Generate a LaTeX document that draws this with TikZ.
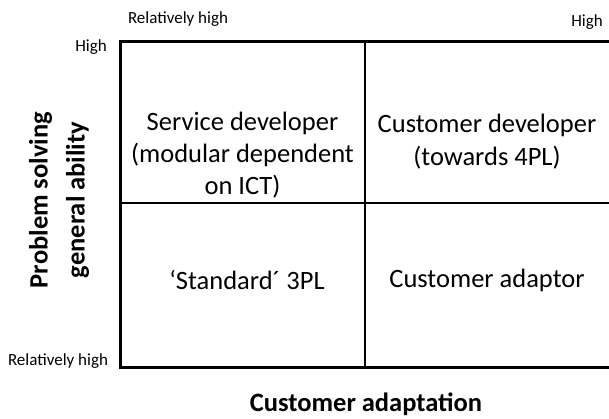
\documentclass[tikz,border=0pt]{standalone}
\usepackage{fontspec}
\setmainfont{Carlito}
\begin{document}
\begin{tikzpicture}[x=1pt,y=-1pt,
  big/.style={font=\fontsize{26.5}{32.5}\selectfont, align=center, inner sep=0pt},
  axis/.style={font=\fontsize{26.5}{37}\selectfont\bfseries, align=center, inner sep=0pt},
  tick/.style={font=\fontsize{17}{20}\selectfont, inner sep=0pt},
  grid/.style={line width=2.6pt, line cap=rect}]
\useasboundingbox (0,0) rectangle (609,418);

% matrix frame and dividers
\coordinate (tl) at (120,41);
\coordinate (br) at (614,367);
\draw[grid, line width=3pt] (tl) rectangle (br);
\draw[grid] (365,41) -- (365,367);
\draw[grid] (120,203) -- (614,203);

% quadrant labels
\node[big] (sd1) at (242.5,123) {Service developer};
\node[big] (sd2) at (242.5,155) {(modular dependent};
\node[big] (sd3) at (242.5,187) {on ICT)};
\node[big] (cd1) at (487,125) {Customer developer};
\node[big] (cd2) at (487,158) {(towards 4PL)};
\node[big] (std) at (247,280) {\symbol{"60}Standard\symbol{"B4} 3PL};
\node[big] (ca) at (487,280) {Customer adaptor};

% axis titles
\node[axis, rotate=90] (ylab) at (59,200) {Problem solving\\general ability};
\node[axis] (xlab) at (366,404) {Customer adaptation};

% scale end labels
\node[tick] (xlo) at (178,19) {Relatively high};
\node[tick] (xhi) at (587,22) {High};
\node[tick] (yhi) at (91,47) {High};
\node[tick] (ylo) at (58,361) {Relatively high};
\end{tikzpicture}
\end{document}
